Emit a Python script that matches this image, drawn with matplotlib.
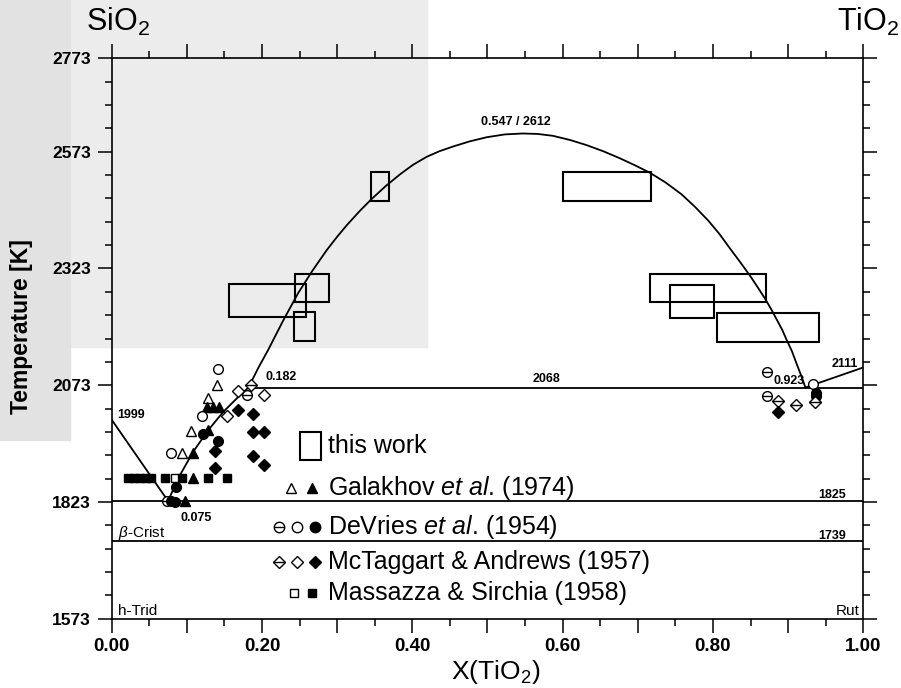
import numpy as np
import matplotlib
matplotlib.use("Agg")
import matplotlib.pyplot as plt
from matplotlib.patches import Rectangle

plt.rcParams["font.family"] = "Liberation Sans"
plt.rcParams["mathtext.fontset"] = "custom"
plt.rcParams["mathtext.rm"] = "Liberation Sans"
plt.rcParams["mathtext.it"] = "Liberation Sans:italic"
plt.rcParams["mathtext.bf"] = "Liberation Sans:bold"

# --- phase boundaries ---
sio2_liq_x = [0.0, 0.075]
sio2_liq_t = [1999, 1825]

rut_liq_low_x = [0.075, 0.0886, 0.1086, 0.1286, 0.1485, 0.1685, 0.182]
rut_liq_low_t = [1825, 1874, 1931, 1977, 2016, 2048, 2068]

gap_x = [0.182, 0.195, 0.208, 0.228, 0.248, 0.267, 0.286, 0.300, 0.313, 0.330,
         0.346, 0.365, 0.384, 0.401, 0.419, 0.436, 0.454, 0.476, 0.499, 0.523,
         0.547, 0.567, 0.587, 0.610, 0.632, 0.654, 0.676, 0.696, 0.716, 0.737,
         0.758, 0.776, 0.794, 0.809, 0.823, 0.836, 0.849, 0.859, 0.869, 0.877,
         0.885, 0.892, 0.898, 0.905, 0.911, 0.917, 0.923]
gap_t = [2068, 2110, 2148, 2211, 2270, 2318, 2362, 2391, 2416, 2446,
         2472, 2500, 2525, 2545, 2562, 2574, 2584, 2595, 2604, 2610,
         2612, 2611, 2607, 2598, 2587, 2574, 2559, 2544, 2528, 2507,
         2482, 2455, 2425, 2396, 2365, 2337, 2308, 2284, 2259, 2237,
         2213, 2192, 2170, 2146, 2120, 2095, 2068]

rut_liq_high_x = [0.923, 1.0]
rut_liq_high_t = [2068, 2111]

T_monotectic = 2068
T_eutectic = 1825
T_crist_trid = 1739

# --- this work: boxes (x0, x1, T0, T1) ---
box_x0 = [0.156, 0.244, 0.242, 0.345, 0.600, 0.716, 0.743, 0.806]
box_x1 = [0.259, 0.289, 0.270, 0.369, 0.717, 0.870, 0.801, 0.941]
box_t0 = [2218, 2251, 2167, 2468, 2468, 2251, 2216, 2166]
box_t1 = [2289, 2312, 2229, 2530, 2530, 2311, 2287, 2227]

# --- literature data ---
gal_open_x = [0.140, 0.128, 0.105, 0.094]
gal_open_t = [2073, 2046, 1975, 1927]
gal_fill_x = [0.127, 0.135, 0.143, 0.128, 0.108, 0.108, 0.0975]
gal_fill_t = [2026, 2026, 2026, 1977, 1927, 1874, 1824]

dev_open_x = [0.142, 0.120, 0.079, 0.933]
dev_open_t = [2107, 2007, 1927, 2076]
dev_bar_x = [0.180, 0.872, 0.872, 0.073]
dev_bar_t = [2052, 2102, 2050, 1825]
dev_fill_x = [0.142, 0.121, 0.086, 0.079, 0.084, 0.937, 0.937]
dev_fill_t = [1954, 1968, 1854, 1824, 1822, 2056, 2050]

mct_bar_x = [0.186, 0.887, 0.910, 0.936]
mct_bar_t = [2073, 2040, 2031, 2038]
mct_open_x = [0.168, 0.203, 0.153]
mct_open_t = [2061, 2052, 2007]
mct_fill_x = [0.168, 0.188, 0.188, 0.203, 0.137, 0.188, 0.203, 0.137, 0.886]
mct_fill_t = [2020, 2011, 1973, 1973, 1932, 1921, 1902, 1895, 2016]

mas_open_x = [0.084]
mas_open_t = [1874]
mas_fill_x = [0.022, 0.030, 0.037, 0.045, 0.052, 0.071, 0.094, 0.128, 0.153]
mas_fill_t = [1874, 1874, 1874, 1874, 1874, 1874, 1874, 1874, 1874]

legend_labels = ["this work",
                 r"Galakhov $\mathit{et\ al}$. (1974)",
                 r"DeVries $\mathit{et\ al}$. (1954)",
                 "McTaggart & Andrews (1957)",
                 "Massazza & Sirchia (1958)"]

fig = plt.figure(figsize=(9.01, 6.88), dpi=100, facecolor="white")

# scan shading in the upper left (behind everything)
fig.patches.append(Rectangle((0, 1 - 347 / 688), 427 / 901, 347 / 688,
                             transform=fig.transFigure, color="#ececec", zorder=-10))
fig.patches.append(Rectangle((0, 1 - 440 / 688), 70 / 901, 440 / 688,
                             transform=fig.transFigure, color="#e2e2e2", zorder=-9))

ax = fig.add_axes([111.7 / 901, 1 - 618.7 / 688, 751.6 / 901, 560.4 / 688])
ax.set_facecolor("none")
ax.set_xlim(0, 1)
ax.set_ylim(1573, 2773)

lw = 1.3
k = "black"
ax.plot(sio2_liq_x, sio2_liq_t, color=k, lw=lw)
ax.plot(rut_liq_low_x, rut_liq_low_t, color=k, lw=lw)
ax.plot(gap_x, gap_t, color=k, lw=lw)
ax.plot(rut_liq_high_x, rut_liq_high_t, color=k, lw=lw)
ax.plot([0.182, 1.0], [T_monotectic] * 2, color=k, lw=lw)
ax.plot([0.0, 1.0], [T_eutectic] * 2, color=k, lw=lw)
ax.plot([0.0, 1.0], [T_crist_trid] * 2, color=k, lw=lw)

for x0, x1, t0, t1 in zip(box_x0, box_x1, box_t0, box_t1):
    ax.add_patch(Rectangle((x0, t0), x1 - x0, t1 - t0, fill=False,
                           edgecolor=k, lw=1.5, zorder=3))

mk = dict(color=k, ls="none", mew=1.0, zorder=4)
ax.plot(gal_open_x, gal_open_t, marker="^", ms=7, mfc="white", **mk)
ax.plot(gal_fill_x, gal_fill_t, marker="^", ms=7, **mk)
ax.plot(dev_open_x, dev_open_t, marker="o", ms=7, mfc="white", **mk)
ax.plot(dev_bar_x, dev_bar_t, marker="o", ms=7, mfc="white", **mk)
ax.plot(dev_bar_x, dev_bar_t, marker="_", ms=7, **mk)
ax.plot(dev_fill_x, dev_fill_t, marker="o", ms=7, **mk)
ax.plot(mct_bar_x, mct_bar_t, marker="D", ms=6, mfc="white", **mk)
ax.plot(mct_bar_x, mct_bar_t, marker="_", ms=8, **mk)
ax.plot(mct_open_x, mct_open_t, marker="D", ms=6, mfc="white", **mk)
ax.plot(mct_fill_x, mct_fill_t, marker="D", ms=6, **mk)
ax.plot(mas_open_x, mas_open_t, marker="s", ms=5.5, mfc="white", **mk)
ax.plot(mas_fill_x, mas_fill_t, marker="s", ms=5.5, **mk)

# legend drawn by hand, as in the original
leg_t = [1943, 1852, 1770, 1695, 1627]
ax.add_patch(Rectangle((0.251, 1913), 0.027, 60, fill=False, edgecolor=k, lw=1.5))
ax.plot([0.239], [leg_t[1]], marker="^", ms=6.5, mfc="white", **mk)
ax.plot([0.266], [leg_t[1]], marker="^", ms=6.5, **mk)
ax.plot([0.222], [leg_t[2]], marker="o", ms=7.5, mfc="white", **mk)
ax.plot([0.222], [leg_t[2]], marker="_", ms=7.5, **mk)
ax.plot([0.246], [leg_t[2]], marker="o", ms=7.5, mfc="white", **mk)
ax.plot([0.270], [leg_t[2]], marker="o", ms=7.5, **mk)
ax.plot([0.222], [leg_t[3]], marker="D", ms=6, mfc="white", **mk)
ax.plot([0.222], [leg_t[3]], marker="_", ms=8, **mk)
ax.plot([0.247], [leg_t[3]], marker="D", ms=6, mfc="white", **mk)
ax.plot([0.271], [leg_t[3]], marker="D", ms=6, **mk)
ax.plot([0.243], [leg_t[4]], marker="s", ms=6, mfc="white", **mk)
ax.plot([0.267], [leg_t[4]], marker="s", ms=6, **mk)
for t, lab in zip(leg_t, legend_labels):
    ax.text(0.288, t, lab, fontsize=18, ha="left", va="center")

# point annotations
small = dict(fontsize=9, fontweight="bold", ha="left", va="center")
ax.text(0.008, 2010, "1999", **small)
ax.text(0.091, 1789, "0.075", **small)
ax.text(0.204, 2090, "0.182", **small)
ax.text(0.578, 2087, "2068", fontsize=9, fontweight="bold", ha="center", va="center")
ax.text(0.538, 2636, "0.547 / 2612", fontsize=9, fontweight="bold", ha="center", va="center")
ax.text(0.880, 2082, "0.923", **small)
ax.text(0.958, 2119, "2111", **small)
ax.text(0.958, 1837, "1825", fontsize=9, fontweight="bold", ha="center", va="center")
ax.text(0.958, 1751, "1739", fontsize=9, fontweight="bold", ha="center", va="center")
ax.text(0.009, 1757, r"$\beta$-Crist", fontsize=11, ha="left", va="center")
ax.text(0.009, 1590, "h-Trid", fontsize=11, ha="left", va="center")
ax.text(0.995, 1590, "Rut", fontsize=11, ha="right", va="center")

ax.text(0.008, 2831, r"SiO$_2$", fontsize=22, ha="center", va="baseline", clip_on=False)
ax.text(1.006, 2831, r"TiO$_2$", fontsize=22, ha="center", va="baseline", clip_on=False)

# axes and ticks
x_major = np.arange(0, 1.001, 0.1)
ax.set_xticks(x_major)
ax.set_xticklabels([f"{v:.2f}" if i % 2 == 0 else "" for i, v in enumerate(x_major)])
ax.set_xticks(np.arange(0.05, 1.0, 0.1), minor=True)
y_major = [1573, 1823, 2073, 2323, 2573, 2773]
ax.set_yticks(y_major)
ax.set_yticklabels([str(v) for v in y_major])
ax.set_yticks([v for v in range(1573, 2774, 50) if v not in y_major], minor=True)

ax.tick_params(which="both", direction="out", top=True, right=True,
               labeltop=False, labelright=False, width=1.1)
ax.tick_params(which="major", length=10)
ax.tick_params(which="minor", length=5)
ax.tick_params(axis="x", pad=4, labelsize=13.5)
ax.tick_params(axis="y", pad=5, labelsize=12.5)
for lab in ax.get_xticklabels() + ax.get_yticklabels():
    lab.set_fontweight("bold")
for sp in ax.spines.values():
    sp.set_linewidth(1.2)

ax.text(-0.12, 0.522, "Temperature [K]", transform=ax.transAxes, rotation=90,
        fontsize=16.5, fontweight="bold", ha="center", va="center")
ax.text(0.511, -0.095, r"X(TiO$_2$)", transform=ax.transAxes,
        fontsize=19, ha="center", va="center")

plt.savefig("out.png", dpi=100)
plt.close()
